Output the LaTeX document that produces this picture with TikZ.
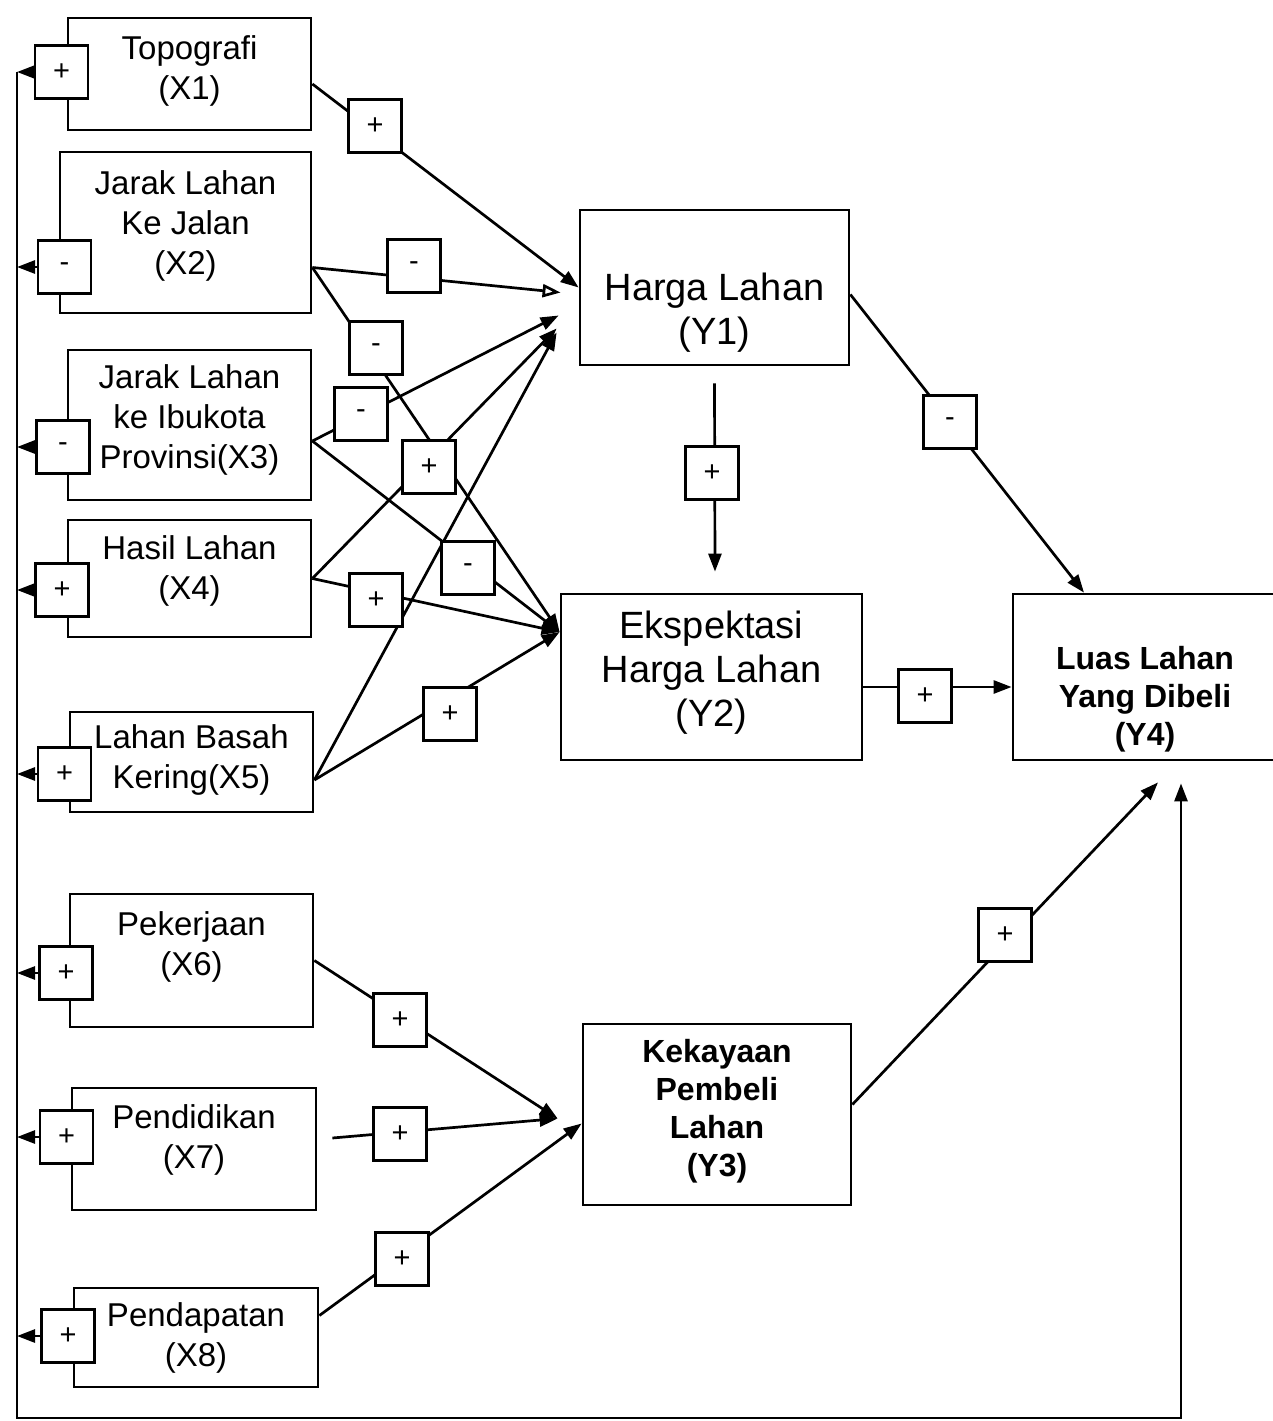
\documentclass[tikz,border=0pt]{standalone}
\usepackage{fontspec}
\setmainfont{Liberation Sans}
\usetikzlibrary{arrows.meta, positioning}

\begin{document}
\begin{tikzpicture}[x=1pt, y=-1pt,
  varbox/.style={draw, rectangle, line width=2.8pt, inner sep=0pt},
  xtext/.style={align=center, font=\fontsize{33}{40}\selectfont},
  ytext/.style={align=center, font=\fontsize{38}{44}\selectfont},
  btext/.style={align=center, font=\fontsize{32}{38}\selectfont\bfseries},
  signbox/.style={draw, rectangle, fill=white, line width=2.5pt, minimum width=53pt, minimum height=53pt, inner sep=0pt, font=\fontsize{29}{29}\selectfont},
  link/.style={line width=2.7pt, -{Triangle[length=18pt, width=13pt]}},
  openlink/.style={line width=2.7pt, -{Triangle[open, length=18pt, width=13pt]}}]
 \useasboundingbox (0, 0) rectangle (1272, 1421);

 \node[varbox, minimum width=243pt, minimum height=112pt, label={[xtext, yshift=3pt]center:Topografi\\(X1)}] (x1) at (189.5, 74) {};
 \node[varbox, minimum width=251pt, minimum height=161pt, label={[xtext, yshift=7pt]center:Jarak Lahan\\Ke Jalan\\(X2)}] (x2) at (185.5, 232.5) {};
 \node[varbox, minimum width=243pt, minimum height=150pt, label={[xtext, yshift=5pt]center:Jarak Lahan\\ke Ibukota\\Provinsi(X3)}] (x3) at (189.5, 425) {};
 \node[varbox, minimum width=243pt, minimum height=117pt, label={[xtext, yshift=8pt]center:Hasil Lahan\\(X4)}] (x4) at (189.5, 578.5) {};
 \node[varbox, minimum width=243pt, minimum height=100pt, label={[xtext, yshift=2pt]center:Lahan Basah\\Kering(X5)}] (x5) at (191.5, 762) {};
 \node[varbox, minimum width=243pt, minimum height=133pt, label={[xtext, yshift=14pt]center:Pekerjaan\\(X6)}] (x6) at (191.5, 960.5) {};
 \node[varbox, minimum width=244pt, minimum height=122pt, label={[xtext, yshift=9pt]center:Pendidikan\\(X7)}] (x7) at (194, 1149) {};
 \node[varbox, minimum width=244pt, minimum height=99pt, label={[xtext]center:Pendapatan\\(X8)}] (x8) at (196, 1337.5) {};

 \node[varbox, minimum width=269pt, minimum height=155pt, label={[ytext, yshift=-25pt]center:Harga Lahan\\(Y1)}] (y1) at (714.5, 287.5) {};
 \node[varbox, minimum width=301pt, minimum height=166pt, label={[ytext, yshift=4pt]center:Ekspektasi\\Harga Lahan\\(Y2)}] (y2) at (711.5, 677) {};
 \node[varbox, minimum width=268pt, minimum height=181pt, label={[btext, yshift=3pt]center:Kekayaan\\Pembeli\\Lahan\\(Y3)}] (y3) at (717, 1114.5) {};
 \node[varbox, minimum width=264pt, minimum height=166pt, label={[btext, yshift=-22pt]center:Luas Lahan\\Yang Dibeli\\(Y4)}] (y4) at (1145, 677) {};

 \node[signbox] (s1) at (61.5, 72) {+};
 \node[signbox] (s2) at (64.5, 267) {-};
 \node[signbox] (s3) at (63, 447) {-};
 \node[signbox] (s4) at (62, 590) {+};
 \node[signbox] (s5) at (64.5, 774) {+};
 \node[signbox] (s6) at (66, 973) {+};
 \node[signbox] (s7) at (66.5, 1137) {+};
 \node[signbox] (s8) at (68, 1336) {+};

 \coordinate (bustop) at (17, 72);
 \coordinate (busend) at (17, 1418);
 \draw[link] (bustop) -- (busend) -| ([shift={(36pt, -22pt)}]y4.south);
 \foreach \s in {s1, s2, s3, s4, s5, s6, s7, s8}
  \draw[link] (\s.west) -- (\s.west -| bustop);

 \draw[link] ([yshift=-10pt]x1.east) -- (y1.west);
 \draw[openlink] ([yshift=-35pt]x2.east) -- ([shift={(-18pt, -5pt)}]y1.west);
 \draw[link] ([yshift=-35pt]x2.east) -- ([yshift=45pt]y2.west);
 \draw[link] ([yshift=-16pt]x3.east) -- ([shift={(-20pt, -28pt)}]y1.west);
 \draw[link] ([yshift=-16pt]x3.east) -- ([yshift=45pt]y2.west);
 \draw[link] (x4.east) -- ([shift={(-22pt, -41pt)}]y1.west);
 \draw[link] (x4.east) -- ([yshift=45pt]y2.west);
 \draw[link] ([yshift=-18pt]x5.east) -- ([shift={(-22pt, -45pt)}]y1.west);
 \draw[link] ([yshift=-18pt]x5.east) -- ([yshift=45pt]y2.west);
 \draw[link] ([yshift=-17pt]y1.south) -- ([shift={(3.5pt, 21pt)}]y2.north);
 \draw[link] ([yshift=-7pt]y1.east) -- ([xshift=-61pt]y4.north);
 \draw[link] ([yshift=-10pt]y2.east) -- ([yshift=-10pt]y4.west);
 \draw[link] (x6.east) -- ([shift={(-24pt, -4pt)}]y3.west);
 \draw[link] ([shift={(15pt, 11pt)}]x7.east) -- ([shift={(-24pt, -4pt)}]y3.west);
 \draw[link] ([yshift=22pt]x8.east) -- ([yshift=-9pt]y3.west);
 \draw[link] ([yshift=10pt]y3.east) -- ([shift={(13pt, -21pt)}]y4.south);

 \node[signbox] (p1) at (375, 126) {+};
 \node[signbox] (p2) at (414, 266) {-};
 \node[signbox] (p3) at (376, 348) {-};
 \node[signbox] (p4) at (361, 414) {-};
 \node[signbox] (p5) at (429, 467) {+};
 \node[signbox] (p6) at (468, 568) {-};
 \node[signbox] (p7) at (376, 600) {+};
 \node[signbox] (p8) at (450, 714) {+};
 \node[signbox] (p9) at (712, 473) {+};
 \node[signbox] (p10) at (950, 422) {-};
 \node[signbox] (p11) at (925, 696) {+};
 \node[signbox] (p12) at (400, 1020) {+};
 \node[signbox] (p13) at (400, 1134) {+};
 \node[signbox] (p14) at (402, 1259) {+};
 \node[signbox] (p15) at (1005, 935) {+};
\end{tikzpicture}
\end{document}
